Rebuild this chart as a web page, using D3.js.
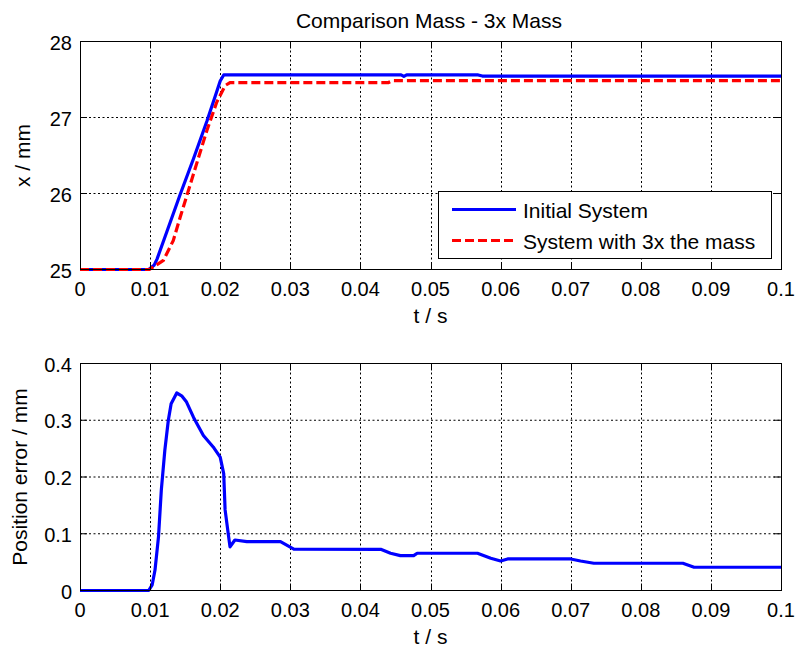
<!DOCTYPE html>
<html>
<head>
<meta charset="utf-8">
<script src="https://cdn.jsdelivr.net/npm/d3@7"></script>
<style>
  html, body { margin: 0; padding: 0; background: #fff; }
  svg { display: block; }
  text { font-family: "Liberation Sans", Arial, Helvetica, sans-serif; fill: #000; }
</style>
</head>
<body>
<svg id="chart" width="796" height="648"></svg>
<script>
// ---------- data ----------
const xTicks = [0, 0.01, 0.02, 0.03, 0.04, 0.05, 0.06, 0.07, 0.08, 0.09, 0.1];
const xTickLabels = ["0", "0.01", "0.02", "0.03", "0.04", "0.05", "0.06", "0.07", "0.08", "0.09", "0.1"];
const topYTicks = [25, 26, 27, 28];
const bottomYTicks = [0, 0.1, 0.2, 0.3, 0.4];
const bottomYTickLabels = ["0", "0.1", "0.2", "0.3", "0.4"];

const initialT = [0, 0.0098, 0.0106, 0.011, 0.0124, 0.0143, 0.0162, 0.0181, 0.0195, 0.0200, 0.0205, 0.0458, 0.0462, 0.0466, 0.0568, 0.0574, 0.1];
const initialX = [25, 25, 25.06, 25.14, 25.5, 25.99, 26.46, 26.95, 27.34, 27.48, 27.56, 27.56, 27.54, 27.56, 27.56, 27.545, 27.545];

const massT = [0, 0.0099, 0.0119, 0.0133, 0.0143, 0.0162, 0.0181, 0.0195, 0.0207, 0.0214, 0.0440, 0.0446, 0.1];
const massX = [25, 25, 25.12, 25.38, 25.69, 26.26, 26.83, 27.2, 27.42, 27.46, 27.46, 27.485, 27.485];

const errT = [0, 0.0098, 0.0103, 0.0107, 0.0112, 0.0116, 0.0121, 0.0126, 0.013, 0.0138, 0.0145, 0.0152, 0.0162, 0.0176, 0.019, 0.02, 0.0205, 0.0207, 0.0212, 0.0214, 0.0221, 0.0238, 0.0286, 0.0305, 0.0429, 0.0443, 0.0457, 0.0476, 0.0481, 0.0567, 0.0586, 0.06, 0.061, 0.07, 0.0714, 0.0733, 0.086, 0.0876, 0.1];
const errV = [0, 0, 0.01, 0.036, 0.095, 0.177, 0.247, 0.30, 0.329, 0.348, 0.343, 0.332, 0.305, 0.273, 0.253, 0.235, 0.206, 0.142, 0.095, 0.077, 0.089, 0.086, 0.086, 0.073, 0.0726, 0.0656, 0.0614, 0.0614, 0.0656, 0.0656, 0.0568, 0.052, 0.0556, 0.0556, 0.052, 0.048, 0.048, 0.041, 0.041];

const seriesNames = ["Initial System", "System with 3x the mass"];
const seriesColors = ["#0000ff", "#ff0000"];

// ---------- layout ----------
const svg = d3.select("#chart");
const X0 = 80, X1 = 781;
const x = d3.scaleLinear().domain([0, 0.1]).range([X0, X1]);
const yTop = d3.scaleLinear().domain([25, 28]).range([269.5, 41.5]);
const yBot = d3.scaleLinear().domain([0, 0.4]).range([590.5, 363.5]);

const TICK = 7;
const tickFont = "20px";
const labelFont = "21px";

function drawPanel(y, yTicks) {
  const [yb, yt] = y.range();
  const g = svg.append("g");
  g.selectAll(".gx").data(xTicks.slice(1, -1)).join("line")
    .attr("x1", d => Math.round(x(d)) + 0.5).attr("x2", d => Math.round(x(d)) + 0.5)
    .attr("y1", yt).attr("y2", yb)
    .attr("stroke", "#000").attr("stroke-width", 1).attr("stroke-dasharray", "2,2.5");
  g.selectAll(".gy").data(yTicks.slice(1, -1)).join("line")
    .attr("x1", X0).attr("x2", X1)
    .attr("y1", d => y(d)).attr("y2", d => y(d))
    .attr("stroke", "#000").attr("stroke-width", 1).attr("stroke-dasharray", "2,2.5");
  return g;
}

function drawFrame(y, yTicks, yLabels, ylabel) {
  const [yb, yt] = y.range();
  const g = svg.append("g");
  g.append("rect").attr("x", X0 + 0.5).attr("y", yt).attr("width", X1 - X0).attr("height", yb - yt)
    .attr("fill", "none").attr("stroke", "#000").attr("stroke-width", 1);
  xTicks.forEach(d => {
    const xx = Math.round(x(d)) + 0.5;
    g.append("line").attr("x1", xx).attr("x2", xx).attr("y1", yb).attr("y2", yb - TICK).attr("stroke", "#000");
    g.append("line").attr("x1", xx).attr("x2", xx).attr("y1", yt).attr("y2", yt + TICK).attr("stroke", "#000");
  });
  yTicks.forEach(d => {
    g.append("line").attr("x1", X0).attr("x2", X0 + TICK).attr("y1", y(d)).attr("y2", y(d)).attr("stroke", "#000");
    g.append("line").attr("x1", X1).attr("x2", X1 - TICK).attr("y1", y(d)).attr("y2", y(d)).attr("stroke", "#000");
  });
  g.selectAll(".xl").data(xTicks).join("text")
    .attr("x", d => x(d)).attr("y", yb + 26)
    .attr("text-anchor", "middle").style("font-size", tickFont)
    .text((d, i) => xTickLabels[i]);
  g.selectAll(".yl").data(yTicks).join("text")
    .attr("x", 72).attr("y", d => y(d) + 8)
    .attr("text-anchor", "end").style("font-size", tickFont)
    .text((d, i) => yLabels[i]);
  g.append("text").attr("x", (X0 + X1) / 2).attr("y", yb + 53)
    .attr("text-anchor", "middle").style("font-size", labelFont).text("t / s");
  g.append("text").attr("transform", `translate(${ylabel.x},${(yb + yt) / 2}) rotate(-90)`)
    .attr("text-anchor", "middle").style("font-size", labelFont).text(ylabel.text);
}

// ---------- top panel ----------
drawPanel(yTop, topYTicks);
const lineTop = d3.line().x(d => x(d[0])).y(d => yTop(d[1]));
svg.append("path").datum(initialT.map((t, i) => [t, initialX[i]]))
  .attr("d", lineTop).attr("fill", "none").attr("stroke", seriesColors[0]).attr("stroke-width", 3.2)
  .attr("stroke-linejoin", "round");
svg.append("path").datum(massT.map((t, i) => [t, massX[i]]))
  .attr("d", lineTop).attr("fill", "none").attr("stroke", seriesColors[1]).attr("stroke-width", 3.2)
  .attr("stroke-dasharray", "9,4");
drawFrame(yTop, topYTicks, topYTicks.map(String), { x: 30, text: "x / mm" });

// title
svg.append("text").attr("x", 429).attr("y", 28).attr("text-anchor", "middle")
  .style("font-size", "21px").text("Comparison Mass - 3x Mass");

// legend
const lg = svg.append("g");
lg.append("rect").attr("x", 438.5).attr("y", 191.5).attr("width", 333).attr("height", 67)
  .attr("fill", "#fff").attr("stroke", "#000").attr("stroke-width", 1);
const legendRows = [209.5, 240.5];
seriesNames.forEach((name, i) => {
  lg.append("line").attr("x1", 452).attr("x2", 516).attr("y1", legendRows[i]).attr("y2", legendRows[i])
    .attr("stroke", seriesColors[i]).attr("stroke-width", 3.2)
    .attr("stroke-dasharray", i === 1 ? "9,4" : null);
  lg.append("text").attr("x", 523).attr("y", legendRows[i] + 8)
    .style("font-size", "21px").text(name);
});

// ---------- bottom panel ----------
drawPanel(yBot, bottomYTicks);
const lineBot = d3.line().x(d => x(d[0])).y(d => yBot(d[1]));
svg.append("path").datum(errT.map((t, i) => [t, errV[i]]))
  .attr("d", lineBot).attr("fill", "none").attr("stroke", seriesColors[0]).attr("stroke-width", 3.2)
  .attr("stroke-linejoin", "round");
drawFrame(yBot, bottomYTicks, bottomYTickLabels, { x: 27, text: "Position error / mm" });
</script>
</body>
</html>
